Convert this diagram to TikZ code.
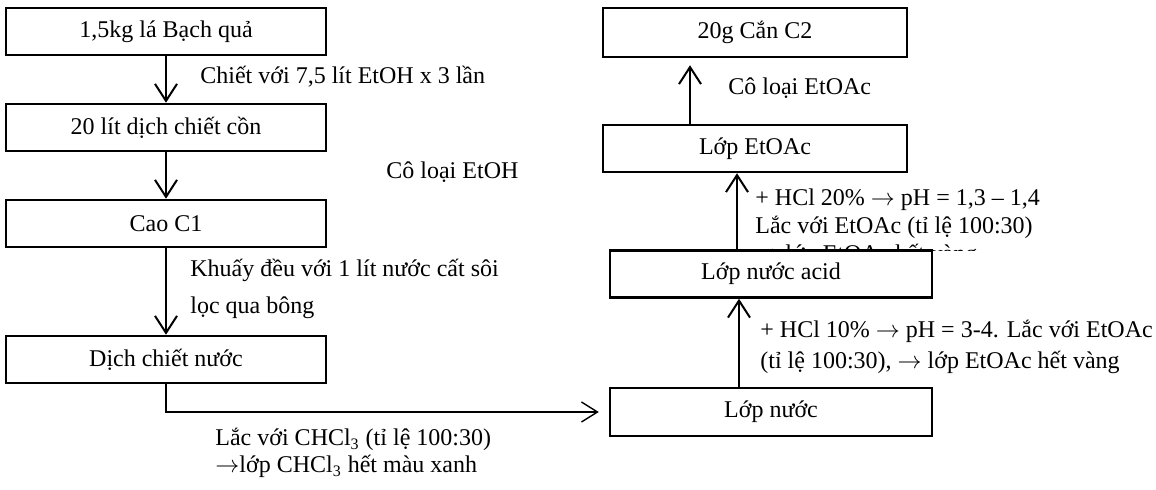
\documentclass[tikz,border=0pt]{standalone}
\usepackage{fontspec}
\setmainfont{Liberation Serif}
\usetikzlibrary{positioning, arrows.meta}
\tikzstyle{process} = [rectangle, minimum width=160pt, minimum height=23.5pt, text centered, draw=black, line width=1.25pt, fill=white]
\tikzstyle{note} = [anchor=west, align=left, inner sep=0pt]
\tikzstyle{arrow} = [line width=1pt, -{Straight Barb[length=8.5pt, width=11pt]}]
\tikzstyle{thinarrow} = [line width=0.7pt, -{Straight Barb[length=8pt, width=10pt]}]
\tikzstyle{every node}=[font=\fontsize{12}{14}\selectfont]

\begin{document}
\begin{tikzpicture}[x=0.5pt, y=-0.5pt, node distance=48pt]
		\useasboundingbox (0,0) rectangle (1156,490);
		%Cột bên trái
		\node (start1) [process] at (166,31.5) {1,5kg lá Bạch quả};
		\node (pro1) [process, below of=start1] {20 lít dịch chiết cồn};
		\node (pro2) [process, below of=pro1] {Cao C1};
		\node (pro3) [process, below of=pro2, node distance=68pt] {Dịch chiết nước};
		
		%Cột bên phải
		\node (stop1) [process, minimum width=152pt, minimum height=24.5pt] at (755,32.5) {20g Cắn C2};
		\node (pro7) [process, minimum width=152pt, below of=stop1, node distance=58pt] {Lớp EtOAc};
		%khung chữ bị cắt ở dòng thứ ba
		\begin{scope}
			\clip (745,178) rectangle (1156,251);
			\node [note, font=\fontsize{12}{14}\selectfont] at (755,228) {+ HCl 20\% $\rightarrow$ pH = 1,3 – 1,4\\Lắc với EtOAc (tỉ lệ 100:30)\\$\rightarrow$ lớp EtOAc hết vàng};
		\end{scope}
		\node (pro6) [process, minimum width=161pt, minimum height=23.5pt] at (771,274) {Lớp nước acid};
		\node (pro5) [process, minimum width=161pt, minimum height=24pt, below of=pro6, node distance=69pt] {Lớp nước};
		
		%Ghi chú
		\node [note] at (200,77) {Chiết với 7,5 lít EtOH x 3 lần};
		\node [note] at (386,172) {Cô loại EtOH};
		\node [note, font=\fontsize{12}{18.5}\selectfont] at (190,289) {Khuấy đều với 1 lít nước cất sôi\\lọc qua bông};
		\node [note, font=\fontsize{12}{13.5}\selectfont] at (215,453) {Lắc với CHCl\textsubscript{3} (tỉ lệ 100:30)\\$\rightarrow$lớp CHCl\textsubscript{3} hết màu xanh};
		\node [note] at (728,88) {Cô loại EtOAc};
		\node [note, font=\fontsize{12}{15.5}\selectfont] at (760,346.5) {+ HCl 10\% $\rightarrow$ pH = 3-4. Lắc với EtOAc\\(tỉ lệ 100:30), $\rightarrow$ lớp EtOAc hết vàng};
		
		%Nối các khối
		\draw [arrow](start1) -- (pro1);
		\draw [arrow](pro1) -- (pro2);
		\draw [arrow](pro2) -- (pro3);
		\draw [thinarrow](pro3.south) |- ([xshift=-5pt]pro5.west);
		\draw [arrow]([xshift=-16pt]pro5.north) -- ([xshift=-16pt]pro6.south);
		\draw [arrow]([xshift=-17pt]pro6.north) -- ([xshift=-9pt]pro7.south);
		\draw [arrow, shorten >=3.5pt]([xshift=-32.5pt]pro7.north) -- ([xshift=-32.5pt]stop1.south);
	\end{tikzpicture}
\end{document}
